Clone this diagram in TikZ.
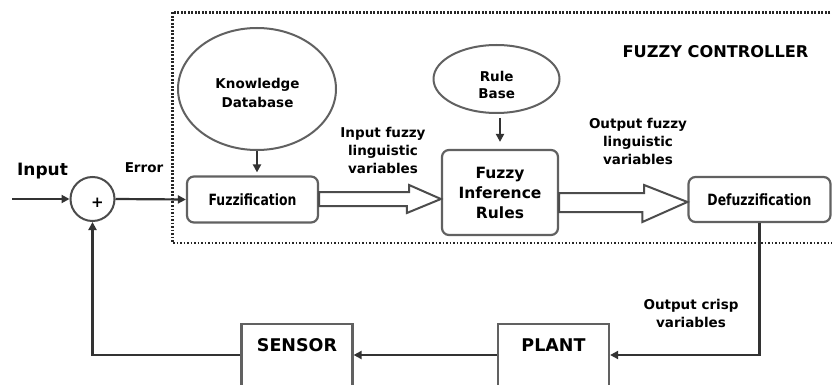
\documentclass[tikz,border=0pt]{standalone}
\usepackage{fontspec}
\setmainfont{DejaVu Sans}
\newfontfamily\narrowf{DejaVu Sans}[FakeStretch=0.8]
\usetikzlibrary{arrows.meta,shapes.geometric,calc}
\begin{document}
\begin{tikzpicture}[x=1pt,y=-1pt,
  ln/.style={line width=2.2pt, draw=black!80},
  arr/.style={ln, -{Triangle[length=8pt,width=8pt]}},
  rbox/.style={draw=black!62, line width=2.2pt, rounded corners=7pt, inner sep=0pt, align=center},
  sbox/.style={draw=black!62, line width=2.2pt, inner sep=0pt, anchor=north, minimum width=111pt, text height=28pt, text depth=45pt, font=\bfseries\fontsize{17.5}{20}\selectfont},
  oval/.style={ellipse, draw=black!62, line width=2pt, inner sep=0pt},
  lbl/.style={font=\bfseries\fontsize{13.5}{18}\selectfont, align=center, inner sep=0pt},
  boxfont/.style={font=\narrowf\bfseries\fontsize{15.5}{20}\selectfont},
  hollow/.style={draw=black!70, line width=2pt, fill=white, line join=miter}
]
\useasboundingbox (0,0) rectangle (832,385);
\fill[white] (0,0) rectangle (832,385);
\clip (0,0) rectangle (832,385);

% dotted controller frame
\draw[line width=2.6pt, black!85, dash pattern=on 1.9pt off 1.6pt] (172.5,12.5) rectangle (836,243);

% nodes
\node[circle, draw=black!70, line width=2pt, minimum size=44pt, inner sep=0pt] (sum) at (92.5,199) {};
\node[font=\bfseries\fontsize{15}{16}\selectfont, inner sep=0pt] (plus) at (97.5,203) {+};
\coordinate (inp) at (12,199);
\node[font=\bfseries\fontsize{17}{20}\selectfont, anchor=base, inner sep=0pt] (inputlbl) at (42.5,175) {Input};
\node[font=\bfseries\fontsize{13.5}{16}\selectfont, anchor=base, inner sep=0pt] (errlbl) at (144,172.7) {Error};

\node[rbox, boxfont, minimum width=131pt, minimum height=46pt] (fuzz) at (252.5,199.5) {Fuzzification};
\node[rbox, font=\bfseries\fontsize{15.5}{20}\selectfont, minimum width=116pt, minimum height=85pt] (inf) at (500,192.5) {Fuzzy\\Inference\\Rules};
\node[rbox, boxfont, minimum width=142pt, minimum height=45pt] (defuzz) at (759.5,199.5) {Defuzzification};

\node[oval, minimum width=158pt, minimum height=122pt] (kdb) at (257,89) {};
\node[lbl, font=\bfseries\fontsize{13.5}{18.7}\selectfont] (kdbt) at (257.5,93) {Knowledge\\Database};
\node[oval, minimum width=126pt, minimum height=68pt] (rb) at (496.5,79) {};
\node[lbl, font=\bfseries\fontsize{13.5}{17.5}\selectfont] (rbt) at (496.7,85) {Rule\\Base};

\node[lbl] (inlbl) at (383,150.5) {Input fuzzy\\linguistic\\variables};
\node[lbl] (outlbl) at (638,141.5) {Output fuzzy\\linguistic\\variables};
\node[lbl] (crisplbl) at (691,313) {Output crisp\\variables};
\node[font=\bfseries\fontsize{16.2}{20}\selectfont, anchor=base, inner sep=0pt] (fctitle) at (715.5,57.7) {FUZZY CONTROLLER};

\node[sbox] (sensor) at (297,322.7) {SENSOR};
\node[sbox] (plant) at (553.5,322.7) {PLANT};

% connectors
\draw[arr] (inp) -- (sum.west);
\draw[arr] (sum.east) -- (fuzz.west);
\draw[arr, shorten >=3pt] (kdb.south) -- (kdb.south |- fuzz.north);
\draw[arr, shorten <=4pt, shorten >=7pt] (inf.north |- rb.south) -- (inf.north);

% hollow block arrows
\draw[hollow] ([yshift=7.5pt]fuzz.east) -- ++(90,0) -- ++(0,-7) -- ([yshift=-6.5pt]inf.west)
  -- ++(-34,14) -- ++(0,-7) -- ([yshift=-6.5pt]fuzz.east) -- cycle;
\draw[hollow] ([yshift=-0.5pt]inf.east) -- ++(85,0) -- ++(0,-8) -- ([yshift=-2.5pt]defuzz.west)
  -- ++(-45,20) -- ++(0,-10) -- ([yshift=-19.5pt]inf.east) -- cycle;

% feedback loop
\coordinate (ly) at (0,355);
\draw[arr] (defuzz.south) |- (plant.east |- ly);
\draw[arr] (plant.west |- ly) -- (sensor.east |- ly);
\draw[arr] (sensor.west |- ly) -| (sum.south);
\end{tikzpicture}
\end{document}
